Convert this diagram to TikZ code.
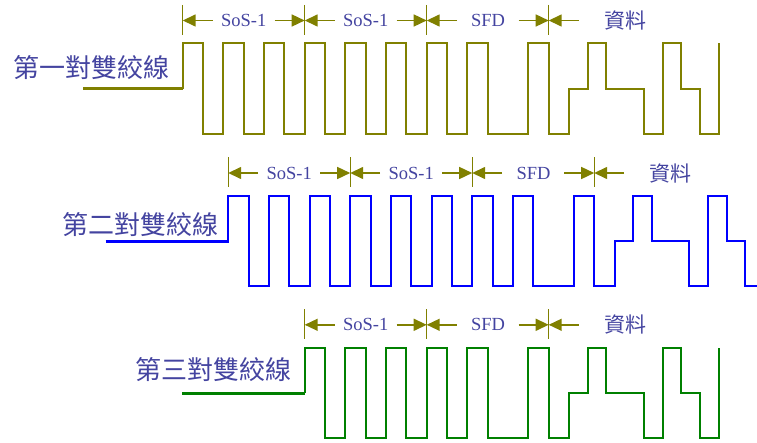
\documentclass[tikz,border=0pt]{standalone}
\usepackage{fontspec}
\setmainfont{Liberation Serif}
\newfontfamily\cjk{Noto Sans CJK TC}
\usetikzlibrary{arrows.meta}
\definecolor{olivec}{RGB}{128,128,0}
\definecolor{txtc}{RGB}{68,68,160}
\definecolor{bluec}{RGB}{0,0,255}
\definecolor{greenc}{RGB}{0,128,0}
\tikzset{
  wave/.style={line width=2pt, line join=miter},
  basel/.style={line width=3pt},
  tickline/.style={draw=olivec, line width=1.2pt},
  dimarrow/.style={draw=olivec, line width=1.5pt, -{Triangle[length=13pt,width=12pt]}},
  dimtext/.style={text=txtc, inner sep=0pt, font=\fontsize{18.5}{18.5}\selectfont},
  cjktext/.style={text=txtc, inner sep=0pt, font=\cjk\fontsize{21}{21}\selectfont},
  pairlabel/.style={text=txtc, inner sep=0pt, font=\cjk\fontsize{26}{26}\selectfont},
}
\begin{document}
\begin{tikzpicture}[x=1pt,y=-1pt]
\useasboundingbox (0,0) rectangle (757,443);
\clip (0,0) rectangle (757,443);

% ---------- Row 1 ----------
\coordinate (A1) at (182.7,20.5);
\coordinate (A2) at (304.7,20.5);
\coordinate (A3) at (426.7,20.5);
\coordinate (A4) at (548.7,20.5);
\foreach \c in {A1,A2,A3,A4} \draw[tickline] ([yshift=15.5pt]\c) -- ([yshift=-14.5pt]\c);
\node[dimtext] (s11) at (243.7,20.5) {SoS-1};
\node[dimtext] (s12) at (365.7,20.5) {SoS-1};
\node[dimtext] (s13) at (488,20.5) {SFD};
\node[cjktext] (s14) at (625,20.5) {資料};
\draw[dimarrow] ([xshift=30pt]A1) -- (A1);
\draw[dimarrow] ([xshift=-30pt]A2) -- (A2);
\draw[dimarrow] ([xshift=30pt]A2) -- (A2);
\draw[dimarrow] ([xshift=-30pt]A3) -- (A3);
\draw[dimarrow] ([xshift=30pt]A3) -- (A3);
\draw[dimarrow] ([xshift=-30pt]A4) -- (A4);
\draw[dimarrow] ([xshift=30pt]A4) -- (A4);
\node[pairlabel] (lab1) at (91,67.5) {第一對雙絞線};
\draw[basel, olivec] (83,88.7) -- (183.2,88.7);
\draw[wave, olivec] (182.7,88.7) |- (203.03,43.3) |- (223.37,134) |- (243.7,43.3) |- (264.03,134) |- (284.37,43.3) |- (304.7,134) |- (325.03,43.3) |- (345.37,134) |- (365.7,43.3) |- (386.03,134) |- (406.37,43.3) |- (426.7,134) |- (447.03,43.3) |- (467.37,134) |- (487.7,43.3) |- (528.37,134) |- (548.7,43.3) |- (569.03,134) |- (587.7,88.7) |- (606.4,43.3) |- (643.8,88.7) |- (662.5,134) |- (681.2,43.3) |- (699.9,88.7) |- (718.6,134) -- (718.6,43.3);

% ---------- Row 2 ----------
\begin{scope}[shift={(45.5,152.5)}]
\coordinate (B1) at (182.7,20.5);
\coordinate (B2) at (304.7,20.5);
\coordinate (B3) at (426.7,20.5);
\coordinate (B4) at (548.7,20.5);
\foreach \c in {B1,B2,B3,B4} \draw[tickline] ([yshift=15.5pt]\c) -- ([yshift=-14.5pt]\c);
\node[dimtext] (s21) at (243.7,20.5) {SoS-1};
\node[dimtext] (s22) at (365.7,20.5) {SoS-1};
\node[dimtext] (s23) at (488,20.5) {SFD};
\node[cjktext] (s24) at (625,20.5) {資料};
\draw[dimarrow] ([xshift=30pt]B1) -- (B1);
\draw[dimarrow] ([xshift=-30pt]B2) -- (B2);
\draw[dimarrow] ([xshift=30pt]B2) -- (B2);
\draw[dimarrow] ([xshift=-30pt]B3) -- (B3);
\draw[dimarrow] ([xshift=30pt]B3) -- (B3);
\draw[dimarrow] ([xshift=-30pt]B4) -- (B4);
\draw[dimarrow] ([xshift=30pt]B4) -- (B4);
\node[pairlabel] (lab2) at (94.5,72.5) {第二對雙絞線};
\draw[basel, bluec] (60.2,88.7) -- (183.2,88.7);
\draw[wave, bluec] (182.7,88.7) |- (203.03,43.3) |- (223.37,134) |- (243.7,43.3) |- (264.03,134) |- (284.37,43.3) |- (304.7,134) |- (325.03,43.3) |- (345.37,134) |- (365.7,43.3) |- (386.03,134) |- (406.37,43.3) |- (426.7,134) |- (447.03,43.3) |- (467.37,134) |- (487.7,43.3) |- (528.37,134) |- (548.7,43.3) |- (569.03,134) |- (587.7,88.7) |- (606.4,43.3) |- (643.8,88.7) |- (662.5,134) |- (681.2,43.3) |- (699.9,88.7) |- (718.6,134) -- (718.6,43.3);
\end{scope}

% ---------- Row 3 ----------
\begin{scope}[shift={(0,304.3)}]
\coordinate (C2) at (304.7,20.5);
\coordinate (C3) at (426.7,20.5);
\coordinate (C4) at (548.7,20.5);
\foreach \c in {C2,C3,C4} \draw[tickline] ([yshift=15.5pt]\c) -- ([yshift=-14.5pt]\c);
\node[dimtext] (s32) at (365.7,20.5) {SoS-1};
\node[dimtext] (s33) at (488,20.5) {SFD};
\node[cjktext] (s34) at (625,20.5) {資料};
\draw[dimarrow] ([xshift=30pt]C2) -- (C2);
\draw[dimarrow] ([xshift=-30pt]C3) -- (C3);
\draw[dimarrow] ([xshift=30pt]C3) -- (C3);
\draw[dimarrow] ([xshift=-30pt]C4) -- (C4);
\draw[dimarrow] ([xshift=30pt]C4) -- (C4);
\node[pairlabel] (lab3) at (213,65.7) {第三對雙絞線};
\draw[basel, greenc] (182.3,88.7) -- (305.2,88.7);
\draw[wave, greenc] (304.7,88.7) |- (325.03,43.3) |- (345.37,134) |- (365.7,43.3) |- (386.03,134) |- (406.37,43.3) |- (426.7,134) |- (447.03,43.3) |- (467.37,134) |- (487.7,43.3) |- (528.37,134) |- (548.7,43.3) |- (569.03,134) |- (587.7,88.7) |- (606.4,43.3) |- (643.8,88.7) |- (662.5,134) |- (681.2,43.3) |- (699.9,88.7) |- (718.6,134) -- (718.6,43.3);
\end{scope}
\end{tikzpicture}
\end{document}
